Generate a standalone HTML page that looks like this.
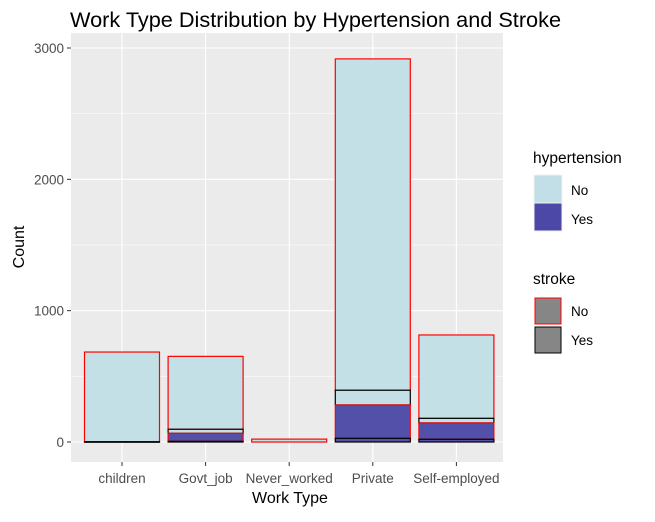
<!DOCTYPE html>
<html><head><meta charset="utf-8"><style>
body{margin:0;background:#fff;}
text{font-family:"Liberation Sans",Arial,sans-serif;}
</style></head><body>
<svg id="chart" width="655" height="517" xmlns="http://www.w3.org/2000/svg">
<text x="70" y="27" font-size="21.7" fill="#000">Work Type Distribution by Hypertension and Stroke</text>
<rect x="71" y="33" width="432" height="429" fill="#ebebeb"/>
<g id="grid"></g>
<g id="bars"></g>
<g id="axes"></g>
<text x="290" y="503" font-size="16" text-anchor="middle" fill="#000">Work Type</text>
<text transform="translate(24,247) rotate(-90)" font-size="16" text-anchor="middle" fill="#000">Count</text>
<g>
<text x="533" y="163" font-size="15.5" fill="#000">hypertension</text>
<rect x="534" y="175" width="28" height="28" fill="#c2dfe7" stroke="#f2f2f2"/>
<text x="571" y="195" font-size="13.5" fill="#000">No</text>
<rect x="534" y="203" width="28" height="28" fill="#4b48a7" stroke="#f2f2f2"/>
<text x="571" y="224" font-size="13.5" fill="#000">Yes</text>
</g>
<g>
<text x="533" y="284" font-size="15.5" fill="#000">stroke</text>
<rect x="535" y="298" width="26" height="26" fill="#868686" stroke="#ff0000"/>
<text x="571" y="316" font-size="13.5" fill="#000">No</text>
<rect x="535" y="327" width="26" height="26" fill="#868686" stroke="#000"/>
<text x="571" y="345" font-size="13.5" fill="#000">Yes</text>
</g>
</svg>
<script>
const categories=["children","Govt_job","Never_worked","Private","Self-employed"];
const hypYesStrokeYes=[0,5,0,28,21];
const hypYesStrokeNo=[0,61,0,254,124];
const hypNoStrokeYes=[2,31,0,112,35];
const hypNoStrokeNo=[683,555,22,2523,635];
const yTicks=[0,1000,2000,3000];
const NS="http://www.w3.org/2000/svg";
const y0=442,pxPer=394/3000;
const yScale=v=>y0-v*pxPer;
const x0=122,step=83.6;
const xScale=i=>x0+i*step;
const bw=75;
function mk(tag,attrs,parent){const e=document.createElementNS(NS,tag);for(const k in attrs)e.setAttribute(k,attrs[k]);parent.appendChild(e);return e;}
const grid=document.getElementById('grid'),bars=document.getElementById('bars'),axes=document.getElementById('axes');
yTicks.forEach((t,i)=>{
 const y=yScale(t);
 const l=mk('line',{x1:71,x2:503,y1:y,y2:y,stroke:'#fff','stroke-width':1.1},grid);
 
 
 if(i<yTicks.length-1){const ym=yScale(t+500);const m=mk('line',{x1:71,x2:503,y1:ym,y2:ym,stroke:'#fff','stroke-width':0.5},grid);
 
 }
 const tk=mk('line',{x1:67,x2:71,y1:y,y2:y,stroke:'#333'},axes);
 
 
 const tx=mk('text',{x:64,y:y+5,'font-size':13.5,'text-anchor':'end',fill:'#4d4d4d'},axes);
 tx.textContent=t;
 
 
});
categories.forEach((c,i)=>{
 const x=xScale(i);
 const g=mk('line',{x1:x,x2:x,y1:33,y2:462,stroke:'#fff','stroke-width':1.1},grid);
 
 
 const tk=mk('line',{x1:x,x2:x,y1:462,y2:466,stroke:'#333'},axes);
 
 
 const tx=mk('text',{x:x,y:483,'font-size':13.5,'text-anchor':'middle',fill:'#4d4d4d'},axes);
 tx.textContent=c;
 
 
 const segs=[[hypYesStrokeYes[i],'#4b48a7','#000','hyp-yes-stroke-yes'],[hypYesStrokeNo[i],'#4b48a7','#f00','hyp-yes-stroke-no'],[hypNoStrokeYes[i],'#c2dfe7','#000','hyp-no-stroke-yes'],[hypNoStrokeNo[i],'#c2dfe7','#f00','hyp-no-stroke-no']];
 let cum=0;
 const rects=[];
 segs.forEach(s=>{
  const yt=yScale(cum+s[0]),yb=yScale(cum);cum+=s[0];
  if(s[0]>0)rects.push([yt,yb,s]);
 });
 rects.reverse().forEach(([yt,yb,s])=>{
  const r=mk('rect',{x:x-bw/2,y:yt,width:bw,height:Math.max(yb-yt,0.5),fill:s[1],'fill-opacity':0.95,stroke:s[2],'stroke-width':1.2},bars);
  
  
 });
});
</script>
</body></html>
